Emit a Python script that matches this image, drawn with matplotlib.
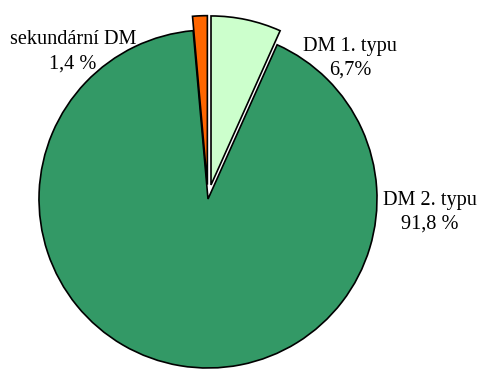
import matplotlib
matplotlib.use("Agg")
import matplotlib.pyplot as plt

# Podíl typů diabetu mellitu
categories = ["DM 1. typu", "DM 2. typu", "sekundární DM"]
values = [6.7, 91.8, 1.4]
value_labels = ["6,7%", "91,8 %", "1,4 %"]
colors = ["#CCFFCC", "#339966", "#FF6600"]
explode_frac = [0.085, 0.0, 0.085]

W, H = 486, 369
fig = plt.figure(figsize=(W / 100, H / 100), dpi=100)
ax = fig.add_axes([0, 0, 1, 1])

cx, cy, r = 208, H - 199, 169
ax.pie(values, colors=colors, explode=[e * r for e in explode_frac],
       startangle=90, counterclock=False, center=(cx, cy), radius=r,
       wedgeprops=dict(edgecolor="black", linewidth=1.2),
       normalize=True, frame=True)
ax.set_xlim(0, W)
ax.set_ylim(0, H)
ax.axis("off")

font = dict(family="Liberation Serif", fontsize=14.6, color="black",
            ha="center", va="center")
label_pos = {"DM 1. typu": (350, 46), "DM 2. typu": (430, 200),
             "sekundární DM": (73, 40)}
for name, val in zip(categories, value_labels):
    x, y = label_pos[name]
    ax.text(x, H - y, name, **font)
    ax.text(x, H - y - 24, val, **font)

fig.savefig("out.png", dpi=100)
